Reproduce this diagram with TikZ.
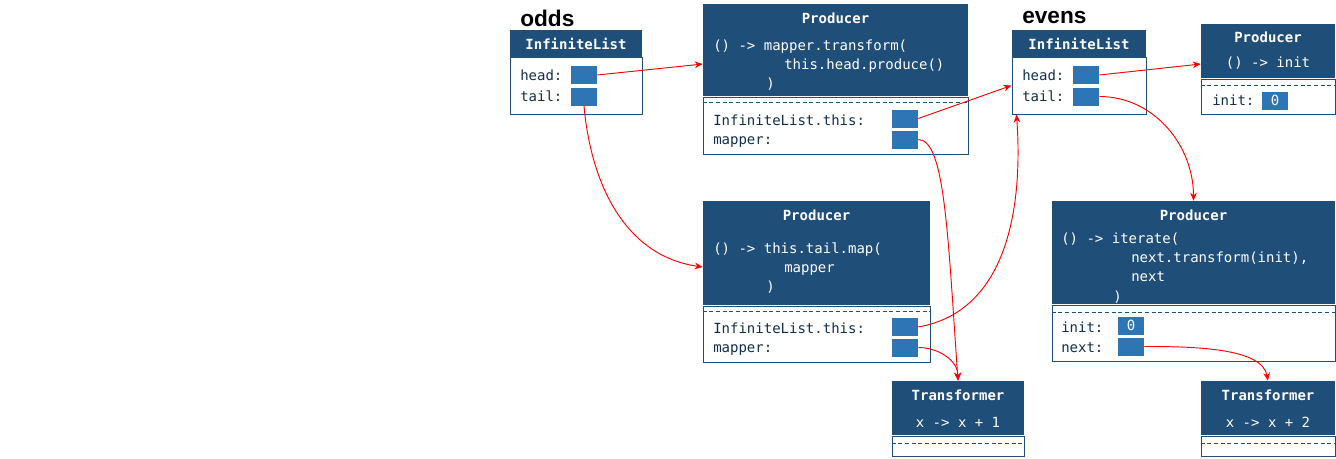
\documentclass[tikz,border=0pt]{standalone}
\usepackage{fontspec}
\setmonofont{DejaVu Sans Mono}
\newfontfamily\namefont{Liberation Sans}
\usetikzlibrary{fit,calc,arrows.meta}
\definecolor{hdrblue}{HTML}{1F4E79}
\definecolor{refblue}{HTML}{2E75B6}
\tikzset{
  hdrbox/.style={fill=hdrblue, inner sep=0pt},
  bodybox/.style={draw=hdrblue, line width=0.75pt, inner sep=0pt},
  sepline/.style={hdrblue, line width=0.6pt, dash pattern=on 3pt off 2pt},
  title/.style={font=\ttfamily\bfseries\fontsize{10.5}{12}\selectfont, text=white, inner sep=0pt},
  code/.style={font=\ttfamily\fontsize{10.5}{12}\selectfont, anchor=west, inner sep=0pt,
    text height=2ex, text depth=0.25ex, text=hdrblue!60!black},
  codew/.style={code, text=white},
  ref/.style={fill=refblue, minimum width=19.5pt, minimum height=13.5pt, inner sep=0pt,
    text=white, font=\ttfamily\fontsize{10.5}{12}\selectfont},
  varname/.style={font=\namefont\bfseries\fontsize{17}{20}\selectfont, anchor=west, inner sep=0pt},
  link/.style={red, line width=0.7pt, -{Stealth[length=6pt,width=5pt]}}
}
\begin{document}
\begin{tikzpicture}[x=0.75pt, y=0.75pt]
\useasboundingbox (0,0) rectangle (1336,-458);
% odds
\node[varname] (oddsname) at (520,-18) {odds};
\node[hdrbox, fit={(510,-30) (642,-57)}] (oddshead) {};
\node[bodybox, fit={(510,-57) (642,-114)}] (oddsbody) {};
\node[title] (oddstitle) at (576,-44) {InfiniteList};
\node[code] (oddsh) at (520,-75) {head:};
\node[code] (oddst) at (520,-96) {tail:};
\node[ref] (oh) at (584,-75) {};
\node[ref] (ot) at (584,-96.5) {};
% Producer de head
\node[hdrbox, fit={(703,-4) (968,-96)}] (p1head) {};
\node[bodybox, fit={(703,-97) (968,-154)}] (p1body) {};
\draw[sepline] (p1body.north west) ++(0,-6) -- ++(265,0);
\node[title] (p1title) at (835.5,-18) {Producer};
\node[codew] (p1a) at (713,-45) {() -> mapper.transform(};
\node[codew] (p1b) at (784,-64) {this.head.produce()};
\node[codew] (p1c) at (766,-83) {)};
\node[code] (p1x) at (713,-120) {InfiniteList.this:};
\node[code] (p1y) at (713,-139) {mapper:};
\node[ref] (p1this) at (905,-118.5) {};
\node[ref] (p1map) at (905,-139.5) {};
% Producer de tail
\node[hdrbox, fit={(703,-201) (930,-305)}] (p2head) {};
\node[bodybox, fit={(703,-306) (930,-362)}] (p2body) {};
\draw[sepline] (p2body.north west) ++(0,-6) -- ++(227,0);
\node[title] (p2title) at (816.5,-215) {Producer};
\node[codew] (p2a) at (713,-248) {() -> this.tail.map(};
\node[codew] (p2b) at (784,-267) {mapper};
\node[codew] (p2c) at (766,-286) {)};
\node[code] (p2x) at (713,-328) {InfiniteList.this:};
\node[code] (p2y) at (713,-347) {mapper:};
\node[ref] (p2this) at (905,-327) {};
\node[ref] (p2map) at (905,-347.5) {};
% Transformer x + 1
\node[hdrbox, fit={(892,-381) (1024,-435)}] (t1head) {};
\node[bodybox, fit={(892,-436) (1024,-456)}] (t1body) {};
\draw[sepline] (t1body.north west) ++(0,-8) -- ++(132,0);
\node[title] (t1title) at (958,-395) {Transformer};
\node[title, font=\ttfamily\fontsize{10.5}{12}\selectfont] (t1code) at (958,-422) {x -> x + 1};
% evens
\node[varname] (evensname) at (1022,-18) {evens};
\node[hdrbox, fit={(1012,-30) (1146,-57)}] (evenshead) {};
\node[bodybox, fit={(1012,-57) (1146,-114)}] (evensbody) {};
\node[title] (evenstitle) at (1079,-44) {InfiniteList};
\node[code] (evensh) at (1022,-75) {head:};
\node[code] (evenst) at (1022,-96) {tail:};
\node[ref] (eh) at (1086,-75) {};
\node[ref] (et) at (1086,-96.5) {};
% Producer init
\node[hdrbox, fit={(1201,-24) (1335,-78)}] (p3head) {};
\node[bodybox, fit={(1201,-79) (1335,-114)}] (p3body) {};
\draw[sepline] (p3body.north west) ++(0,-7) -- ++(134,0);
\node[title] (p3title) at (1268,-37) {Producer};
\node[title, font=\ttfamily\fontsize{10.5}{12}\selectfont] (p3code) at (1268,-63) {() -> init};
\node[code] (p3x) at (1212,-100) {init:};
\node[ref] (p3init) at (1275,-100.5) {0};
% Producer iterate
\node[hdrbox, fit={(1052,-201) (1335,-304)}] (p4head) {};
\node[bodybox, fit={(1052,-305) (1335,-361)}] (p4body) {};
\draw[sepline] (p4body.north west) ++(0,-8) -- ++(283,0);
\node[title] (p4title) at (1193.5,-215) {Producer};
\node[codew] (p4a) at (1061,-238) {() -> iterate(};
\node[codew] (p4b) at (1131,-257) {next.transform(init),};
\node[codew] (p4c) at (1131,-276) {next};
\node[codew] (p4d) at (1113,-296) {)};
\node[code] (p4x) at (1061,-327) {init:};
\node[code] (p4y) at (1061,-347) {next:};
\node[ref] (p4init) at (1131,-325.5) {0};
\node[ref] (p4next) at (1131,-346.5) {};
% Transformer x + 2
\node[hdrbox, fit={(1201,-381) (1335,-435)}] (t2head) {};
\node[bodybox, fit={(1201,-436) (1335,-456)}] (t2body) {};
\draw[sepline] (t2body.north west) ++(0,-8) -- ++(134,0);
\node[title] (t2title) at (1268,-395) {Transformer};
\node[title, font=\ttfamily\fontsize{10.5}{12}\selectfont] (t2code) at (1268,-422) {x -> x + 2};
% Liens
\draw[link] (oh.east) -- ($(p1head.west)+(0,-14)$);
\draw[link] (ot.south) to[out=-85, in=172] ($(p2head.west)+(0,-14)$);
\draw[link] (p1this.east) -- (evensbody.west);
\draw[link] (p1map.east) to[out=0, in=94, out distance=20pt, in distance=110pt] (t1head.north);
\draw[link] (p2this.east) to[out=10, in=-86] ($(evensbody.south west)+(5,0)$);
\draw[link] (p2map.east) to[out=0, in=90] (t1head.north);
\draw[link] (eh.east) -- ($(p3head.west)+(0,-13)$);
\draw[link] (et.east) to[out=0, in=90] (p4head.north);
\draw[link] (p4next.east) to[out=0, in=100, in distance=25pt] (t2head.north);
\end{tikzpicture}
\end{document}
